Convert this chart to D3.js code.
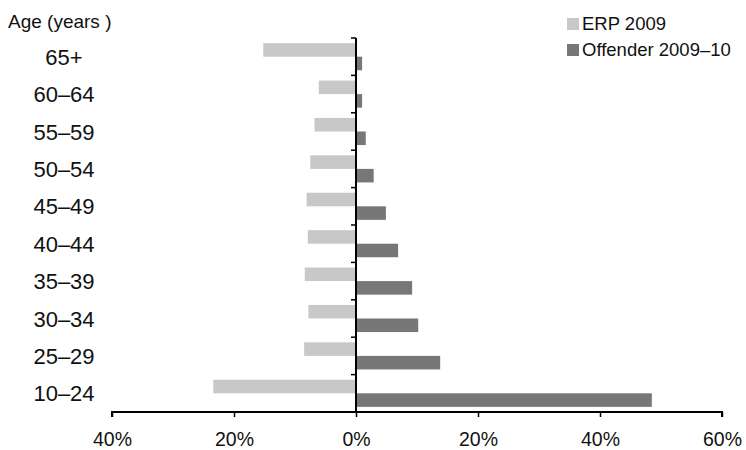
<!DOCTYPE html>
<html><head><meta charset="utf-8">
<script src="https://cdn.jsdelivr.net/npm/d3@7"></script>
<style>body{margin:0;background:#fff;} svg{display:block;} text{font-family:"Liberation Sans",Arial,sans-serif;fill:#111;}</style>
</head><body>
<svg id="c" width="746" height="450"></svg>
<script>
const categories = ["65+","60–64","55–59","50–54","45–49","40–44","35–39","30–34","25–29","10–24"];
const erp2009 = [-15.2,-6.1,-6.8,-7.5,-8.1,-7.9,-8.4,-7.8,-8.5,-23.4];
const offender = [1.0,1.0,1.6,2.9,4.9,6.9,9.2,10.2,13.8,48.5];
const xTicks = [-40,-20,0,20,40,60];
const seriesNames = ["ERP 2009","Offender 2009–10"];
const colors = ["#c8c8c8","#777777"];

const svg = d3.select("#c");
const x = d3.scaleLinear().domain([-40,60]).range([112,722]);
const y = d3.scaleBand().domain(categories).range([38,412]);
const inner = d3.scaleBand().domain([0,1]).range([0,y.bandwidth()]).paddingOuter(0.38).paddingInner(0);

const series = [erp2009, offender];
series.forEach((vals,si)=>{
  svg.append("g").selectAll("rect").data(vals).join("rect")
    .attr("x", d=>x(Math.min(0,d)))
    .attr("width", d=>Math.abs(x(d)-x(0)))
    .attr("y", (d,i)=>y(categories[i])+inner(si))
    .attr("height", inner.bandwidth())
    .attr("fill", colors[si]);
});

// x axis
const xa = svg.append("g").attr("transform","translate(0,412)")
  .call(d3.axisBottom(x).tickValues(xTicks).tickSize(5).tickPadding(0).tickFormat(d=>Math.abs(d)+"%"));
xa.select(".domain").attr("stroke","#000").attr("stroke-width",2).attr("d","M112,5V0H722V5");
xa.selectAll(".tick line").attr("stroke","#000").attr("stroke-width",1.5);
xa.selectAll(".tick text").attr("font-size",19.5).attr("fill","#111").attr("dy",null).attr("y",34)
  .style("font-family","'Liberation Sans',Arial,sans-serif");

// y axis at zero
const ticksY = categories.map(c=>y(c)).concat([412]);
const ya = svg.append("g").attr("transform",`translate(${x(0)},0)`);
ya.append("line").attr("y1",38).attr("y2",412).attr("stroke","#000").attr("stroke-width",2);
ya.selectAll("line.t").data(ticksY).join("line").attr("class","t")
  .attr("x1",-5).attr("x2",0).attr("y1",d=>d).attr("y2",d=>d).attr("stroke","#000").attr("stroke-width",1.5);

// category labels
svg.append("g").selectAll("text").data(categories).join("text")
  .attr("x",64).attr("y",d=>y(d)+y.bandwidth()/2+8)
  .attr("text-anchor","middle").attr("font-size",22).text(d=>d);

svg.append("text").attr("x",8).attr("y",28).attr("font-size",19).text("Age (years )");

// legend
const lg = svg.append("g");
seriesNames.forEach((n,i)=>{
  lg.append("rect").attr("x",567).attr("y",18+i*26).attr("width",12).attr("height",12).attr("fill",colors[i]);
  lg.append("text").attr("x",582).attr("y",30+i*26).attr("font-size",18.5).text(n);
});
</script>
</body></html>
